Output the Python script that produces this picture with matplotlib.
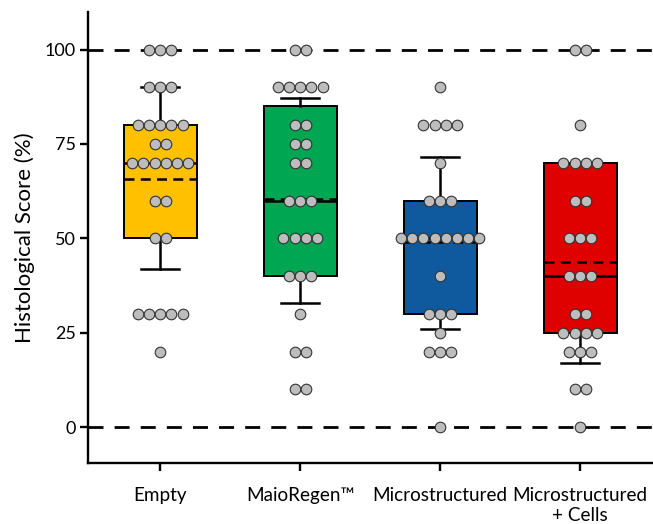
import matplotlib
matplotlib.use("Agg")
import matplotlib.pyplot as plt
import numpy as np

plt.rcParams['font.family'] = ['Lato', 'DejaVu Sans']

# groups and colours
groups = ["Empty", "MaioRegen\u2122", "Microstructured", "Microstructured\n+ Cells"]
box_colors = ["#FFC000", "#00A651", "#0F5A9E", "#DF0000"]

# individual scores (%)
empty = [100, 100, 100, 90, 90, 90, 80, 80, 80, 80, 80, 75, 75,
         70, 70, 70, 70, 70, 70, 60, 60, 50, 50, 30, 30, 30, 30, 30, 20]
maioregen = [100, 100, 90, 90, 90, 90, 90, 80, 80, 75, 75, 70, 70,
             60, 60, 60, 50, 50, 50, 50, 40, 40, 40, 30, 20, 20, 10, 10]
micro = [90, 80, 80, 80, 80, 70, 60, 60, 60, 50, 50, 50, 50, 50, 50, 50, 50,
         40, 30, 30, 30, 25, 20, 20, 20, 0]
micro_cells = [100, 100, 80, 70, 70, 70, 70, 60, 60, 50, 50, 50, 40, 40, 40,
               30, 30, 25, 25, 25, 25, 20, 20, 20, 10, 10, 0]
scores = [empty, maioregen, micro, micro_cells]

# box summary (10-90 percentile whiskers, dashed mean)
q1 = [50, 40, 30, 25]
medians = [70, 60, 50, 40]
q3 = [80, 85, 60, 70]
means = [65.7, 60.3, 49.0, 43.7]
whisker_low = [41.8, 32.8, 25.9, 17.1]
whisker_high = [90, 87.2, 71.5, 70]


def swarm_offsets(values, step):
    values = np.asarray(values, dtype=float)
    offs = np.zeros(len(values))
    for v in np.unique(values):
        idx = np.where(values == v)[0]
        n = len(idx)
        offs[idx] = (np.arange(n) - (n - 1) / 2) * step
    return offs


fig = plt.figure(figsize=(6.53, 5.24), dpi=100)
ax = fig.add_axes([0.135, 0.1164, 0.865, 0.861])

positions = np.arange(len(groups))

# reference lines at 0 and 100
for yref in (0, 100):
    ax.axhline(yref, color="black", lw=2, linestyle=(0, (5.4, 4)), zorder=1)

stats = []
for i in range(len(groups)):
    stats.append(dict(med=medians[i], q1=q1[i], q3=q3[i], mean=means[i],
                      whislo=whisker_low[i], whishi=whisker_high[i], fliers=[]))

bp = ax.bxp(stats, positions=positions, widths=0.52, patch_artist=True,
            showmeans=True, meanline=True, showfliers=False, capwidths=0.27,
            boxprops=dict(edgecolor="black", linewidth=1.4),
            medianprops=dict(color="black", linewidth=1.8),
            meanprops=dict(color="black", linewidth=1.8, linestyle=(0, (4, 2.5))),
            whiskerprops=dict(color="black", linewidth=1.8),
            capprops=dict(color="black", linewidth=1.8))
for patch, c in zip(bp["boxes"], box_colors):
    patch.set_facecolor(c)
    patch.set_zorder(2)

for i, vals in enumerate(scores):
    x = positions[i] + swarm_offsets(vals, 0.08)
    ax.scatter(x, vals, s=58, facecolor="#BDBDBD", edgecolor="#333333",
               linewidth=0.8, zorder=4)

ax.set_xlim(-0.514, 3.52)
ax.set_ylim(-9.5, 110)
ax.set_yticks([0, 25, 50, 75, 100])
ax.set_xticks(positions)
ax.set_xticklabels(groups, fontsize=13.6, linespacing=1.25)
ax.tick_params(axis="y", labelsize=13, length=6, width=1.7, pad=3)
ax.tick_params(axis="x", length=6, width=1.7, pad=11)
ax.set_ylabel("Histological Score (%)", fontsize=16, labelpad=7)

for side in ("top", "right"):
    ax.spines[side].set_visible(False)
for side in ("left", "bottom"):
    ax.spines[side].set_linewidth(1.7)

fig.savefig("out.png", dpi=100)
